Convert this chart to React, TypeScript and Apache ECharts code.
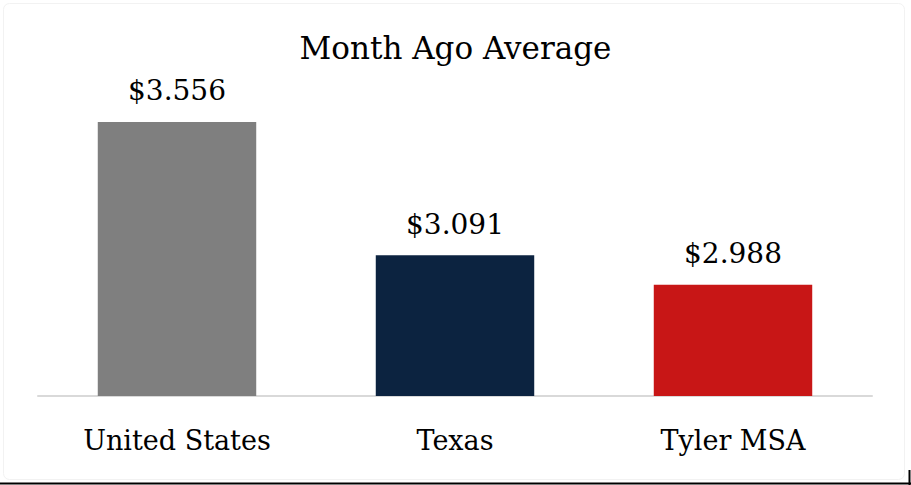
import React, { useEffect, useRef } from "react";
import * as echarts from "echarts";

const categories = ["United States", "Texas", "Tyler MSA"];
const values = [3.556, 3.091, 2.988];
const barColors = ["#7f7f7f", "#0c2340", "#c81616"];
const titleText = "Month Ago Average";

const FONT = "DejaVu Serif";

export default function App() {
  const ref = useRef<HTMLDivElement>(null);
  useEffect(() => {
    document.body.style.margin = "0";
    const chart = echarts.init(ref.current!, null, { renderer: "svg" });
    chart.setOption({
      animation: false,
      backgroundColor: "#ffffff",
      title: {
        text: titleText,
        left: "center",
        top: 27,
        textStyle: { fontFamily: FONT, fontSize: 31, fontWeight: "normal", color: "#000" },
      },
      grid: { left: 38, right: 39, top: 52, bottom: 89 },
      xAxis: {
        type: "category",
        data: categories,
        axisLine: { lineStyle: { color: "#d9d9d9", width: 2 } },
        axisTick: { show: false },
        axisLabel: { fontFamily: FONT, fontSize: 27, color: "#000", margin: 31 },
      },
      yAxis: {
        type: "value",
        min: 2.6,
        max: 3.8,
        show: false,
        splitLine: { show: false },
      },
      series: [
        {
          type: "bar",
          barWidth: "57%",
          data: values.map((v, i) => ({ value: v, itemStyle: { color: barColors[i] } })),
          label: {
            show: true,
            position: "top",
            distance: 17,
            fontFamily: FONT,
            fontSize: 28,
            color: "#000",
            formatter: (p: any) => "$" + p.value.toFixed(3),
          },
        },
      ],
      graphic: [
        { type: "rect", shape: { x: 3.5, y: 3.5, width: 901, height: 476, r: 6 }, style: { fill: "none", stroke: "#f2f2f2", lineWidth: 1 } },
        { type: "line", shape: { x1: 0, y1: 483.5, x2: 911, y2: 483.5 }, style: { stroke: "#000", lineWidth: 2 } },
        { type: "line", shape: { x1: 909.5, y1: 470, x2: 909.5, y2: 485 }, style: { stroke: "#000", lineWidth: 2 } },
      ],
    });
    return () => chart.dispose();
  }, []);
  return <div ref={ref} style={{ width: 911, height: 485 }} />;
}
